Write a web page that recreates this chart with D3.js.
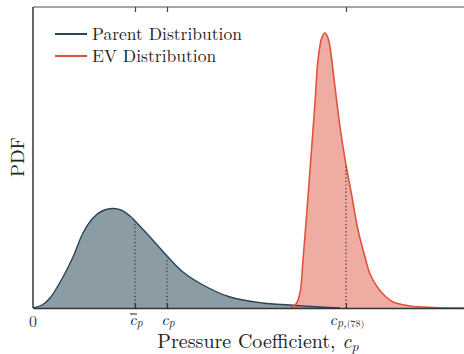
<!DOCTYPE html>
<html>
<head>
<meta charset="utf-8">
<script src="https://cdn.jsdelivr.net/npm/d3@7"></script>
<style>
  body { margin: 0; background: #fff; }
</style>
</head>
<body>
<div id="chart"></div>
<script>
// Parent distribution
var parentX = [0, 0.09, 0.17, 0.30, 0.40, 0.50, 0.60, 0.69, 0.79, 0.88, 0.97, 1.02, 1.17, 1.35, 1.50, 1.70, 1.97, 2.30, 2.57, 2.87, 3.07];
var parentY = [0, 0.03, 0.10, 0.31, 0.51, 0.75, 0.90, 0.97, 0.995, 0.98, 0.92, 0.87, 0.71, 0.51, 0.36, 0.23, 0.11, 0.05, 0.03, 0.01, 0];

// Extreme value distribution
var evX = [2.57, 2.63, 2.67, 2.70, 2.74, 2.77, 2.82, 2.85, 2.89, 2.92, 2.95, 2.97, 3.02, 3.07, 3.13, 3.19, 3.25, 3.32, 3.37, 3.45, 3.52, 3.60, 3.77, 4.00, 4.31];
var evY = [0, 0.04, 0.15, 0.48, 0.98, 1.38, 2.05, 2.48, 2.71, 2.75, 2.70, 2.61, 2.21, 1.81, 1.43, 1.11, 0.78, 0.51, 0.34, 0.20, 0.12, 0.06, 0.02, 0.005, 0];

// marker ticks: mean, c_p, c_p,(78)
var markerX = [1.02, 1.34, 3.13];
var markerTop = [0.87, 0.51, 1.43];

var seriesNames = ["Parent Distribution", "EV Distribution"];

var FONT = '"Latin Modern Roman", "Liberation Serif", serif';

var W = 464, H = 354;
var margin = { left: 33, right: 0, top: 7, bottom: 46 };
var width = W - margin.left - margin.right,
    height = H - margin.top - margin.bottom;

var svg = d3.select("#chart").append("svg")
    .attr("width", W).attr("height", H)
    .style("font-family", FONT);
var g = svg.append("g")
    .attr("transform", "translate(" + margin.left + "," + margin.top + ")");

var x = d3.scaleLinear().domain([0, 4.31]).range([0, width]);
var y = d3.scaleLinear().domain([0, 3.01]).range([height, 0]);

var parent = parentX.map(function(v, i){ return [v, parentY[i]]; });
var ev = evX.map(function(v, i){ return [v, evY[i]]; });

var area = d3.area()
    .x(function(d){ return x(d[0]); })
    .y0(y(0))
    .y1(function(d){ return y(d[1]); })
    .curve(d3.curveCatmullRom.alpha(0.5));
var line = d3.line()
    .x(function(d){ return x(d[0]); })
    .y(function(d){ return y(d[1]); })
    .curve(d3.curveCatmullRom.alpha(0.5));

// fills
g.append("path").attr("d", area(parent))
    .attr("fill", "#2c4a5a").attr("fill-opacity", 0.55);
g.append("path").attr("d", area(ev))
    .attr("fill", "#e05a45").attr("fill-opacity", 0.5);

// lines
g.append("path").attr("d", line(parent))
    .attr("fill", "none").attr("stroke", "#2a4356").attr("stroke-width", 1.4);
g.append("path").attr("d", line(ev))
    .attr("fill", "none").attr("stroke", "#e0533f").attr("stroke-width", 1.6);

// dotted markers
markerX.forEach(function(m, i){
    g.append("line")
        .attr("x1", x(m)).attr("x2", x(m))
        .attr("y1", y(0)).attr("y2", y(markerTop[i]))
        .attr("stroke", "#333").attr("stroke-width", 1.2)
        .attr("stroke-dasharray", "1.2,2.4");
});

// frame
g.append("line").attr("x1", 0).attr("x2", width).attr("y1", 0).attr("y2", 0)
    .attr("stroke", "#888").attr("stroke-width", 1.5);
g.append("line").attr("x1", 0).attr("x2", 0).attr("y1", 0).attr("y2", height)
    .attr("stroke", "#333").attr("stroke-width", 1.5);

// bottom axis with inward ticks
var xAxis = d3.axisBottom(x)
    .tickValues(markerX)
    .tickSizeInner(-5).tickSizeOuter(0)
    .tickFormat("");
var ax = g.append("g")
    .attr("transform", "translate(0," + height + ")")
    .call(xAxis);
ax.select(".domain").attr("stroke", "#333").attr("stroke-width", 1.5);
ax.selectAll(".tick line").attr("stroke", "#333").attr("stroke-width", 1.2);

// top ticks
var topAxis = d3.axisTop(x).tickValues(markerX).tickSizeInner(-5).tickSizeOuter(0).tickFormat("");
var tx = g.append("g").call(topAxis);
tx.select(".domain").remove();
tx.selectAll(".tick line").attr("stroke", "#444").attr("stroke-width", 1.2);

// tick labels
var labY = height + 17;
g.append("text").attr("x", x(0)).attr("y", labY + 2).attr("fill", "#333")
    .attr("text-anchor", "middle").attr("font-size", 16).text("0");

function mathLabel(xv, sub, bar) {
    var t = g.append("text").attr("x", x(xv) + 1).attr("y", labY).attr("fill", "#222")
        .attr("text-anchor", "middle").attr("font-size", 16);
    t.append("tspan").attr("font-style", "italic").text("c");
    t.append("tspan").attr("font-size", 12).attr("dy", 2)
        .attr("font-style", "italic").text(sub);
    if (bar) {
        g.append("line")
            .attr("x1", x(xv) - 5).attr("x2", x(xv) + 2)
            .attr("y1", labY - 11).attr("y2", labY - 11)
            .attr("stroke", "#222").attr("stroke-width", 1);
    }
    return t;
}
mathLabel(markerX[0], "p", true);
mathLabel(markerX[1], "p", false);
var t3 = g.append("text").attr("x", x(markerX[2]) + 1).attr("y", labY).attr("fill", "#222")
    .attr("text-anchor", "middle").attr("font-size", 16);
t3.append("tspan").attr("font-style", "italic").text("c");
t3.append("tspan").attr("font-size", 12).attr("dy", 2).attr("font-style", "italic").text("p,");
t3.append("tspan").attr("font-size", 10).text("(78)");

// axis titles
var xl = svg.append("text").attr("x", 258).attr("y", 348).attr("fill", "#222")
    .attr("text-anchor", "middle").attr("font-size", 20);
xl.append("tspan").text("Pressure Coefficient, ");
xl.append("tspan").attr("font-style", "italic").text("c");
xl.append("tspan").attr("font-style", "italic").attr("font-size", 14).attr("dy", 3).text("p");

svg.append("text").attr("fill", "#222")
    .attr("transform", "translate(24," + 157 + ") rotate(-90)")
    .attr("text-anchor", "middle").attr("font-size", 19).text("PDF");

// legend
var colors = ["#2a4356", "#e0533f"];
seriesNames.forEach(function(name, i){
    var row = svg.append("g").attr("transform", "translate(55," + (34 + i * 22) + ")");
    row.append("line").attr("x1", 0).attr("x2", 32).attr("y1", 0).attr("y2", 0)
        .attr("stroke", colors[i]).attr("stroke-width", 2);
    row.append("text").attr("x", 37).attr("y", 6).attr("fill", "#222")
        .attr("font-size", 17.5).text(name);
});
</script>
</body>
</html>
